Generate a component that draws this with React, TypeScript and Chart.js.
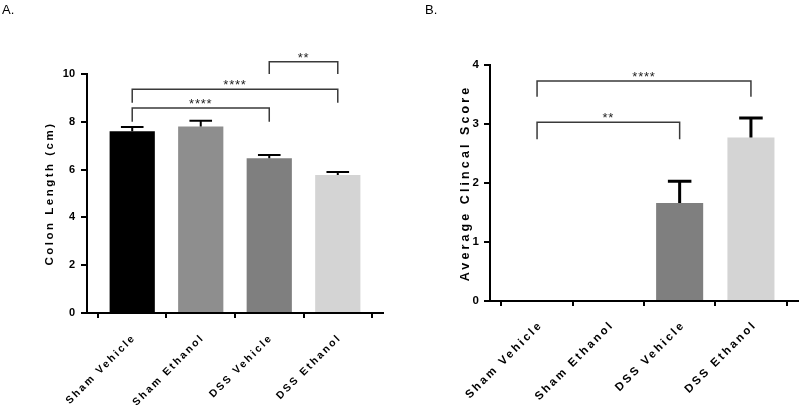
import React, { useEffect, useRef } from 'react';
import { Chart, registerables } from 'chart.js';
Chart.register(...registerables);

const categories = ['Sham Vehicle', 'Sham Ethanol', 'DSS Vehicle', 'DSS Ethanol'];
const barColors = ['#000000', '#8e8e8e', '#7f7f7f', '#d4d4d4'];

const colonLength = [7.6, 7.8, 6.48, 5.77];
const colonLengthErr = [0.18, 0.24, 0.13, 0.13];
const colonTicks = [0, 2, 4, 6, 8, 10];

const clinicalScore = [0, 0, 1.66, 2.77];
const clinicalScoreErr = [0, 0, 0.37, 0.33];
const scoreTicks = [0, 1, 2, 3, 4];

const colonBrackets = [
  { from: 0, to: 2, leg: 8.0, top: 8.58, label: '****' },
  { from: 0, to: 3, leg: 8.8, top: 9.36, label: '****' },
  { from: 2, to: 3, leg: 10.0, top: 10.51, label: '**' },
];
const scoreBrackets = [
  { from: 0, to: 2, leg: 2.74, top: 3.03, label: '**' },
  { from: 0, to: 3, leg: 3.46, top: 3.73, label: '****' },
];

const FONT = '"Liberation Sans", Arial, sans-serif';

type PanelCfg = {
  panelLabel: string;
  panelLabelX: number;
  title: string;
  titleX: number;
  titleFont: number;
  titleSpacing: number;
  values: number[];
  errors: number[];
  ticks: number[];
  yMax: number;
  brackets: { from: number; to: number; leg: number; top: number; label: string }[];
  padTop: number;
  padRight: number;
  yWidth: number;
  xHeight: number;
  errWidth: number;
  tickFont: number;
  tickPad: number;
  xFont: number;
  xSpacing: number;
  xdx: number;
  xdy: number;
};

function makePlugin(p: PanelCfg) {
  return {
    id: 'annot',
    afterDraw(chart: any) {
      const ctx: CanvasRenderingContext2D = chart.ctx;
      const xs = chart.scales.x;
      const ys = chart.scales.y;
      const meta = chart.getDatasetMeta(0);
      const area = chart.chartArea;
      ctx.save();
      // error bars
      ctx.strokeStyle = '#000';
      ctx.lineWidth = p.errWidth;
      ctx.lineCap = 'butt';
      p.values.forEach((v, i) => {
        const e = p.errors[i];
        if (!e) return;
        const bar = meta.data[i];
        const x = bar.x;
        const y0 = ys.getPixelForValue(v);
        const y1 = ys.getPixelForValue(v + e);
        const half = bar.width / 4;
        ctx.beginPath();
        ctx.moveTo(x, y0);
        ctx.lineTo(x, y1);
        ctx.moveTo(x - half, y1);
        ctx.lineTo(x + half, y1);
        ctx.stroke();
      });
      // brackets
      ctx.strokeStyle = '#3a3a3a';
      ctx.lineWidth = 1.5;
      ctx.fillStyle = '#1e1e1e';
      ctx.font = `13px ${FONT}`;
      (ctx as any).letterSpacing = '0.8px';
      ctx.textAlign = 'center';
      ctx.textBaseline = 'alphabetic';
      p.brackets.forEach((b) => {
        const x1 = xs.getPixelForValue(b.from);
        const x2 = xs.getPixelForValue(b.to);
        const yl = ys.getPixelForValue(b.leg);
        const yt = ys.getPixelForValue(b.top);
        ctx.beginPath();
        ctx.moveTo(x1, yl);
        ctx.lineTo(x1, yt);
        ctx.lineTo(x2, yt);
        ctx.lineTo(x2, yl);
        ctx.stroke();
        ctx.fillText(b.label, (x1 + x2) / 2, yt);
      });
      // x labels
      ctx.fillStyle = '#000';
      ctx.font = `bold ${p.xFont}px ${FONT}`;
      (ctx as any).letterSpacing = `${p.xSpacing}px`;
      ctx.textAlign = 'right';
      ctx.textBaseline = 'middle';
      categories.forEach((c, i) => {
        const x = xs.getPixelForValue(i);
        ctx.save();
        ctx.translate(x + p.xdx, area.bottom + p.xdy);
        ctx.rotate(-Math.PI / 4);
        ctx.fillText(c, 0, 0);
        ctx.restore();
      });
      // y title
      ctx.font = `bold ${p.titleFont}px ${FONT}`;
      (ctx as any).letterSpacing = `${p.titleSpacing}px`;
      ctx.textAlign = 'center';
      ctx.save();
      ctx.translate(p.titleX, (area.top + area.bottom) / 2);
      ctx.rotate(-Math.PI / 2);
      ctx.fillText(p.title, 0, 0);
      ctx.restore();
      // panel label
      (ctx as any).letterSpacing = '0px';
      ctx.font = `13px ${FONT}`;
      ctx.textAlign = 'left';
      ctx.textBaseline = 'alphabetic';
      ctx.fillText(p.panelLabel, p.panelLabelX, 14);
      ctx.restore();
    },
  };
}

function Panel({ cfg }: { cfg: PanelCfg }) {
  const ref = useRef<HTMLCanvasElement>(null);
  useEffect(() => {
    if (!ref.current) return;
    const p = cfg;
    const chart = new Chart(ref.current, {
      type: 'bar',
      data: {
        datasets: [
          {
            data: p.values.map((v, i) => ({ x: i, y: v })),
            backgroundColor: barColors,
            borderWidth: 0,
            barPercentage: 0.66,
            categoryPercentage: 1,
          } as any,
        ],
      },
      options: {
        responsive: false,
        maintainAspectRatio: false,
        animation: false,
        layout: { padding: { left: 0, right: p.padRight, top: p.padTop, bottom: 0 } },
        plugins: { legend: { display: false }, tooltip: { enabled: false } },
        scales: {
          x: {
            type: 'linear',
            min: -0.66,
            max: 3.66,
            offset: false,
            afterBuildTicks: (s: any) => {
              s.ticks = categories.map((_, i) => ({ value: i }));
            },
            afterFit: (s: any) => {
              s.height = p.xHeight;
            },
            ticks: { display: false },
            grid: { drawOnChartArea: false, drawTicks: true, tickLength: 5, color: '#000', lineWidth: 2 },
            border: { display: true, color: '#000', width: 2 },
          },
          y: {
            type: 'linear',
            min: 0,
            max: p.yMax,
            afterBuildTicks: (s: any) => {
              s.ticks = p.ticks.map((v) => ({ value: v }));
            },
            afterFit: (s: any) => {
              s.width = p.yWidth;
            },
            ticks: {
              color: '#000',
              padding: p.tickPad,
              font: { family: FONT, size: p.tickFont, weight: 'bold' },
            },
            grid: { drawOnChartArea: false, drawTicks: true, tickLength: 6, color: '#000', lineWidth: 2 },
            border: { display: true, color: '#000', width: 2 },
          },
        },
      } as any,
      plugins: [makePlugin(p)],
    });
    return () => chart.destroy();
  }, [cfg]);
  return <canvas ref={ref} width={400} height={405} style={{ display: 'block', width: 400, height: 405 }} />;
}

const leftCfg: PanelCfg = {
  panelLabel: 'A.',
  panelLabelX: 2,
  title: 'Colon Length (cm)',
  titleX: 50,
  titleFont: 11.5,
  titleSpacing: 2.5,
  values: colonLength,
  errors: colonLengthErr,
  ticks: colonTicks,
  yMax: 10,
  brackets: colonBrackets,
  padTop: 74,
  padRight: 17,
  yWidth: 87,
  xHeight: 92,
  errWidth: 2,
  tickFont: 11,
  tickPad: 6,
  xFont: 10.5,
  xSpacing: 2.2,
  xdx: 2,
  xdy: 23,
};

const rightCfg: PanelCfg = {
  panelLabel: 'B.',
  panelLabelX: 25,
  title: 'Average Clincal Score',
  titleX: 66,
  titleFont: 12.5,
  titleSpacing: 3.1,
  values: clinicalScore,
  errors: clinicalScoreErr,
  ticks: scoreTicks,
  yMax: 4,
  brackets: scoreBrackets,
  padTop: 65,
  padRight: 2,
  yWidth: 90,
  xHeight: 104,
  errWidth: 3,
  tickFont: 11.5,
  tickPad: 5,
  xFont: 11.5,
  xSpacing: 2.5,
  xdx: 4,
  xdy: 22,
};

export default function App() {
  return (
    <div style={{ position: 'absolute', left: 0, top: 0, width: 800, height: 405, display: 'flex', background: '#fff' }}>
      <Panel cfg={leftCfg} />
      <Panel cfg={rightCfg} />
    </div>
  );
}
